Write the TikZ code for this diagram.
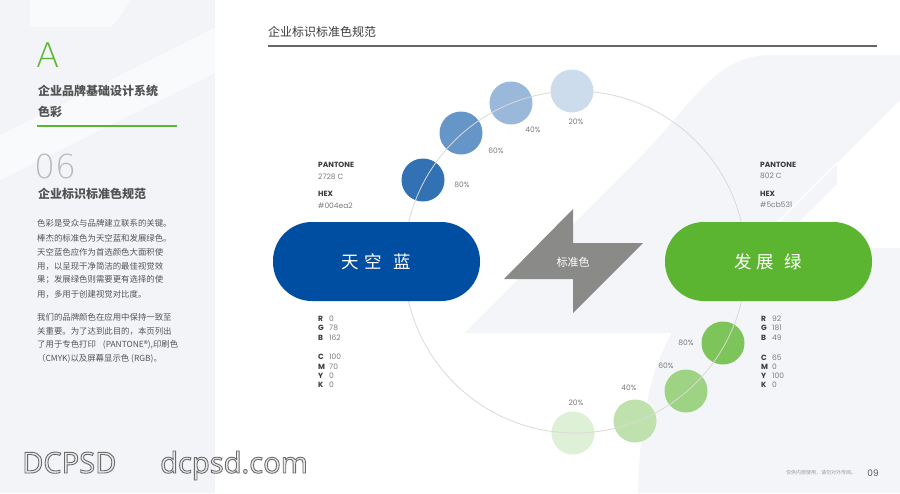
\documentclass[tikz,border=0pt]{standalone}
\usepackage{fontspec}
\setmainfont{Noto Sans CJK SC}
\newfontfamily\latinf{Poppins}
\newfontfamily\thinf{DejaVu Sans ExtraLight}
\newfontfamily\wmf{Noto Sans}
\XeTeXlinebreaklocale "zh"
\XeTeXlinebreakskip=0pt plus 3pt
\newcommand\jl[1]{\makebox[141pt][s]{#1}}
\newcommand\outlined[1]{\special{pdf:literal direct 2 Tr 0.9 w 0.42 G}#1\special{pdf:literal direct 0 Tr 1 w 0 G}}
\definecolor{tkblue}{HTML}{004EA2}
\definecolor{tkgreen}{HTML}{5CB531}
\definecolor{panelgray}{HTML}{F3F4F8}
\definecolor{panelwhite}{HTML}{F9FAFC}
\definecolor{bggray}{HTML}{F4F5F8}
\definecolor{arrowgray}{HTML}{8A8B89}
\definecolor{txtdark}{HTML}{3A3A3A}
\definecolor{txtgray}{HTML}{7A7A7A}
\definecolor{paragray}{HTML}{555555}
\definecolor{ringgray}{HTML}{DADADA}
\begin{document}
\begin{tikzpicture}[x=1pt,y=-1pt,
  lab/.style={anchor=west,inner sep=0pt,font=\latinf\bfseries\fontsize{7.5}{9}\selectfont,text=txtdark},
  val/.style={anchor=west,inner sep=0pt,font=\latinf\fontsize{7.5}{9}\selectfont,text=txtgray},
  pct/.style={inner sep=0pt,font=\latinf\fontsize{7.5}{9}\selectfont,text=txtgray},
  dot/.style={circle,inner sep=0pt,minimum size=43pt},
  pill/.style={rounded corners=39pt,minimum width=207pt,minimum height=79pt,inner sep=0pt,text=white,font=\fontsize{17.5}{20}\selectfont},
  para/.style={anchor=west,inner sep=0pt,font=\fontsize{8.4}{10}\selectfont,text=paragray},
  head/.style={anchor=west,inner sep=0pt,font=\bfseries\fontsize{12}{14}\selectfont,text=black!68},
  wm/.style={anchor=base west,inner sep=0pt,font=\wmf\fontsize{29}{30}\selectfont,text=black!8},
]
\useasboundingbox (0,0) rectangle (900,493);
\fill[white] (0,0) rectangle (900,493);
% left panel
\fill[panelgray] (0,0) rectangle (215,493);
\fill[panelwhite] (0,180) -- (0,135) -- (215,28) -- (215,73) -- cycle;
\fill[panelwhite] (30,0) -- (130,0) .. controls (124,12) and (118,20) .. (110,27) -- (30,27) -- cycle;
% background shapes of main area
\fill[bggray] (464,333) -- (645,152) .. controls (690,107) and (715,55) .. (770,55) -- (900,55) -- (900,493) -- (638,493) .. controls (640,420) and (650,370) .. (672,333) -- cycle;
\fill[white] (837,163) -- (900,100) -- (900,248) -- (773,248) -- (837,184) -- cycle;
\draw[white,line width=1.5pt] (837,163) -- (760,240);

% header
\node[anchor=west,inner sep=0pt,font=\fontsize{12}{14}\selectfont,text=txtdark] (title) at (268,32) {企业标识标准色规范};
\draw[black!60,line width=1.2pt] (268,46) coordinate (tl) -- (877,46) coordinate (tr);

% left panel texts
\node[anchor=west,inner sep=0pt,font=\thinf\fontsize{34}{36}\selectfont,text=tkgreen] (bigA) at (36,55) {A};
\node[head] (h1) at (38,91) {企业品牌基础设计系统};
\node[head] (h2) at (38,112) {色彩};
\draw[tkgreen,line width=1.8pt] (37,126) coordinate (gl) -- (177,126) coordinate (gr);
\node[anchor=west,inner sep=0pt,font=\thinf\fontsize{33}{36}\selectfont,text=black!27] (num) at (34,166) {06};
\node[head] (h3) at (38,194) {企业标识标准色规范};
\node[para] (p1) at (37,223) {\jl{色彩是受众与品牌建立联系的关键。}};
\node[para] (p2) at (37,238) {\jl{棒杰的标准色为天空蓝和发展绿色。}};
\node[para] (p3) at (37,252) {\jl{天空蓝色应作为首选颜色大面积使}};
\node[para] (p4) at (37,266) {\jl{用，以呈现干净简洁的最佳视觉效}};
\node[para] (p5) at (37,280) {\jl{果；发展绿色则需要更有选择的使}};
\node[para] (p6) at (37,294) {用，多用于创建视觉对比度。};
\node[para] (q1) at (37,317) {\jl{我们的品牌颜色在应用中保持一致至}};
\node[para] (q2) at (37,331) {\jl{关重要。为了达到此目的，本页列出}};
\node[para] (q3) at (37,345) {\jl{了用于专色打印 (PANTONE®),印刷色}};
\node[para] (q4) at (37,359) {（CMYK)以及屏幕显示色 (RGB)。};

% watermark
\node[wm] (wma) at (22,473) {\outlined{DCPSD}};
\node[wm] (wmb) at (160,473) {\outlined{dcpsd.com}};

% tint circles
\node[dot,fill=tkblue!80!white] (b80) at (423,180) {};
\node[dot,fill=tkblue!60!white] (b60) at (461,133) {};
\node[dot,fill=tkblue!40!white] (b40) at (511,103) {};
\node[dot,fill=tkblue!20!white] (b20) at (572,91) {};
\node[dot,fill=tkgreen!80!white] (g80) at (723,343) {};
\node[dot,fill=tkgreen!60!white] (g60) at (686,391) {};
\node[dot,fill=tkgreen!40!white] (g40) at (635,421) {};
\node[dot,fill=tkgreen!20!white] (g20) at (573,433) {};
% ring
\node[circle,draw=ringgray,line width=0.8pt,minimum size=342pt,inner sep=0pt] (ring) at (575,262) {};

\node[pct] (lb80) at (462,185) {80\%};
\node[pct] (lb60) at (496,151) {60\%};
\node[pct] (lb40) at (533,130) {40\%};
\node[pct] (lb20) at (576,122) {20\%};
\node[pct] (lg80) at (686,343) {80\%};
\node[pct] (lg60) at (666,366) {60\%};
\node[pct] (lg40) at (629,388) {40\%};
\node[pct] (lg20) at (576,403) {20\%};

% pills
\node[pill,fill=tkblue] (blue) at (376.5,261.5) {天\hspace{5pt}空\hspace{12pt}蓝};
\node[pill,fill=tkgreen] (green) at (768.5,261.5) {发\hspace{4pt}展\hspace{11pt}绿};

% arrow
\fill[arrowgray] (504,279) -- (573,209) -- (573,243) -- (643,243) -- (573,313) -- (573,279) -- cycle;
\node[inner sep=0pt,text=white,font=\fontsize{11}{12}\selectfont] (std) at (573,262) {标准色};

% pantone / hex
\node[lab] (pl) at (318,165) {PANTONE};
\node[val] (plv) at (318,177) {2728 C};
\node[lab] (hl) at (318,194) {HEX};
\node[val] (hlv) at (318,206) {\#004ea2};
\node[lab] (pr) at (760,165) {PANTONE};
\node[val] (prv) at (760,176) {802 C};
\node[lab] (hr) at (760,194) {HEX};
\node[val] (hrv) at (760,205) {\#5cb531};

% RGB / CMYK
\foreach \k/\l/\v/\y in {1/R/0/319,2/G/78/328,3/B/162/338,4/C/100/357,5/M/70/367,6/Y/0/376,7/K/0/385}{
  \node[lab] (lk\k) at (318,\y) {\l};
  \node[val] (lv\k) at (329,\y) {\v};
}
\foreach \k/\l/\v/\y in {1/R/92/319,2/G/181/328,3/B/49/338,4/C/65/358,5/M/0/367,6/Y/100/376,7/K/0/385}{
  \node[lab] (rk\k) at (761,\y) {\l};
  \node[val] (rv\k) at (772,\y) {\v};
}

% footer
\node[anchor=west,inner sep=0pt,font=\fontsize{5}{6}\selectfont,text=black!40] (note) at (786,473) {仅供内部使用，请勿对外传阅。};
\node[inner sep=0pt,font=\latinf\fontsize{9}{10}\selectfont,text=black!65] (page) at (873,473) {09};
\end{tikzpicture}
\end{document}
